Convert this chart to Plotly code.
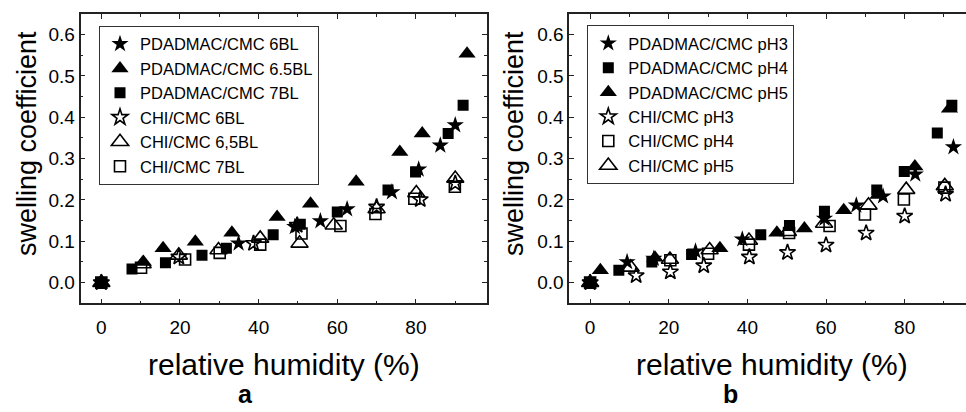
import plotly.graph_objects as go

# ---------------- panel a ----------------
a_names = ["PDADMAC/CMC 6BL", "PDADMAC/CMC 6.5BL", "PDADMAC/CMC 7BL",
           "CHI/CMC 6BL", "CHI/CMC 6,5BL", "CHI/CMC 7BL"]
a_6bl_x = [0, 34.9, 49.2, 55.7, 62.5, 73.9, 80.7, 86.2, 90.0]
a_6bl_y = [0, 0.095, 0.135, 0.149, 0.178, 0.219, 0.274, 0.332, 0.381]
a_65bl_x = [0, 10.7, 15.7, 23.9, 33.2, 44.7, 53.2, 64.8, 75.9, 81.6, 93.0]
a_65bl_y = [0, 0.050, 0.083, 0.099, 0.121, 0.159, 0.191, 0.244, 0.316, 0.361, 0.554]
a_7bl_x = [0, 7.8, 16.3, 25.6, 31.8, 43.7, 50.6, 60.0, 72.9, 79.9, 88.2, 92.0]
a_7bl_y = [0, 0.033, 0.048, 0.066, 0.083, 0.116, 0.141, 0.171, 0.224, 0.268, 0.361, 0.429]
a_chi6_x = [0, 19.7, 38.7, 49.8, 70.0, 81.1, 90.0]
a_chi6_y = [0, 0.062, 0.095, 0.139, 0.183, 0.201, 0.240]
a_chi65_x = [0, 10.5, 19.7, 29.8, 40.4, 50.4, 59.1, 70.0, 80.1, 90.0]
a_chi65_y = [0, 0.045, 0.066, 0.079, 0.107, 0.095, 0.139, 0.178, 0.217, 0.252]
a_chi7_x = [0, 10.1, 21.3, 30.1, 40.4, 50.9, 60.8, 69.7, 79.6, 89.9]
a_chi7_y = [0, 0.036, 0.056, 0.072, 0.092, 0.119, 0.137, 0.166, 0.203, 0.232]

# ---------------- panel b ----------------
b_names = ["PDADMAC/CMC pH3", "PDADMAC/CMC pH4", "PDADMAC/CMC pH5",
           "CHI/CMC pH3", "CHI/CMC pH4", "CHI/CMC pH5"]
b_p3_x = [0, 9.4, 16.2, 26.8, 38.7, 59.6, 67.7, 74.5, 82.7, 92.4]
b_p3_y = [0, 0.050, 0.058, 0.076, 0.105, 0.155, 0.187, 0.209, 0.262, 0.328]
b_p4_x = [0, 7.3, 15.7, 25.8, 43.4, 50.7, 59.6, 72.9, 79.9, 88.3, 92.0]
b_p4_y = [0, 0.030, 0.050, 0.068, 0.116, 0.138, 0.173, 0.224, 0.269, 0.362, 0.429]
b_p5_x = [0, 2.6, 16.5, 33.0, 47.5, 54.5, 64.5, 73.2, 82.6, 91.4]
b_p5_y = [0, 0.030, 0.060, 0.083, 0.121, 0.131, 0.175, 0.212, 0.281, 0.421]
b_c3_x = [0, 11.7, 20.4, 28.9, 40.5, 50.2, 60.0, 70.2, 80.0, 90.4]
b_c3_y = [0, 0.017, 0.026, 0.041, 0.062, 0.073, 0.091, 0.120, 0.161, 0.214]
b_c4_x = [0, 20.4, 30.0, 40.4, 50.6, 60.9, 69.9, 79.8, 90.1]
b_c4_y = [0, 0.054, 0.070, 0.092, 0.120, 0.137, 0.165, 0.201, 0.230]
b_c5_x = [0, 10.3, 20.3, 30.4, 40.4, 50.3, 59.5, 70.8, 80.4, 90.2]
b_c5_y = [0, 0.037, 0.056, 0.079, 0.102, 0.123, 0.143, 0.187, 0.225, 0.234]

x_title = "relative humidity (%)"
y_title = "swelling coefficient"
x_ticks = [0, 20, 40, 60, 80]
y_ticks = [0.0, 0.1, 0.2, 0.3, 0.4, 0.5, 0.6]

FONT = "Liberation Sans, Arial, sans-serif"
W, H = 966, 412

sym = {"star": ("star", 13), "tri": ("triangle-up", 15), "sq": ("square", 11),
       "star-open": ("star-open", 12), "tri-open": ("triangle-up-open", 15),
       "sq-open": ("square-open", 11)}

def add(fig, x, y, name, kind, xa, ya, legend):
    s, size = sym[kind]
    opened = kind.endswith("open")
    fig.add_trace(go.Scatter(
        x=x, y=y, name=name, mode="markers", xaxis=xa, yaxis=ya, legend=legend,
        marker=dict(symbol=s, size=size, color="black",
                    line=dict(color="black", width=1.6 if opened else 0))))

fig = go.Figure()
a_series = [(a_6bl_x, a_6bl_y, "star"), (a_65bl_x, a_65bl_y, "tri"), (a_7bl_x, a_7bl_y, "sq"),
            (a_chi6_x, a_chi6_y, "star-open"), (a_chi65_x, a_chi65_y, "tri-open"),
            (a_chi7_x, a_chi7_y, "sq-open")]
b_series = [(b_p3_x, b_p3_y, "star"), (b_p4_x, b_p4_y, "sq"), (b_p5_x, b_p5_y, "tri"),
            (b_c3_x, b_c3_y, "star-open"), (b_c4_x, b_c4_y, "sq-open"),
            (b_c5_x, b_c5_y, "tri-open")]
for (x, y, k), n in zip(a_series, a_names):
    add(fig, x, y, n, k, "x", "y", "legend")
for (x, y, k), n in zip(b_series, b_names):
    add(fig, x, y, n, k, "x2", "y2", "legend2")

ax_common = dict(showline=True, linecolor="#222", linewidth=1.6, ticks="inside",
                 ticklen=5, tickwidth=1.3, tickcolor="#222", showgrid=False, zeroline=False,
                 tickfont=dict(family=FONT, size=19, color="black"))
xax = dict(ax_common, tickvals=x_ticks, range=[-5.3, 98.0], mirror="allticks",
           ticklabelstandoff=6,
           minor=dict(ticks="inside", ticklen=3, dtick=10, tick0=0, tickcolor="#222", tickwidth=1.2))
yax = dict(ax_common, tickvals=y_ticks, tickformat=".1f", range=[-0.05, 0.65],
           minor=dict(ticks="inside", ticklen=3, dtick=0.05, tick0=0, tickcolor="#222", tickwidth=1.2))

ydom = [1 - 303.3 / H, 1 - 14 / H]
leg_common = dict(xanchor="left", yanchor="top", bordercolor="#333", borderwidth=1,
                  bgcolor="white", font=dict(family=FONT, size=16.5, color="black"),
                  tracegroupgap=0)
fig.update_layout(
    width=W, height=H, margin=dict(l=0, r=0, t=0, b=0),
    paper_bgcolor="white", plot_bgcolor="white",
    xaxis=dict(xax, domain=[80.5 / W, 486.7 / W], anchor="y"),
    yaxis=dict(yax, domain=ydom, anchor="x", mirror="allticks"),
    xaxis2=dict(xax, domain=[569.3 / W, 1.0], anchor="y2", range=[-5.3, 95.6]),
    yaxis2=dict(yax, domain=ydom, anchor="x2", mirror=False),
    legend=dict(leg_common, x=99 / W, y=1 - 25.7 / H),
    legend2=dict(leg_common, x=587.3 / W, y=1 - 25 / H),
    showlegend=True,
)

ann = []
for cx in [283.6, 772]:
    ann.append(dict(x=cx / W, y=1 - 364 / H, xref="paper", yref="paper", text=x_title,
                    showarrow=False, font=dict(family=FONT, size=30, color="black"),
                    xanchor="center", yanchor="middle"))
for cx, lbl in [(246, "a"), (730, "b")]:
    ann.append(dict(x=cx / W, y=1 - 394 / H, xref="paper", yref="paper", text="<b>%s</b>" % lbl,
                    showarrow=False, font=dict(family=FONT, size=25, color="black"),
                    xanchor="center", yanchor="middle"))
for cx in [27, 514]:
    ann.append(dict(x=cx / W, y=1 - 144 / H, xref="paper", yref="paper", text=y_title,
                    showarrow=False, textangle=-90, font=dict(family=FONT, size=27, color="black"),
                    xanchor="center", yanchor="middle"))
fig.update_layout(annotations=ann)

fig.write_html("out.html")
